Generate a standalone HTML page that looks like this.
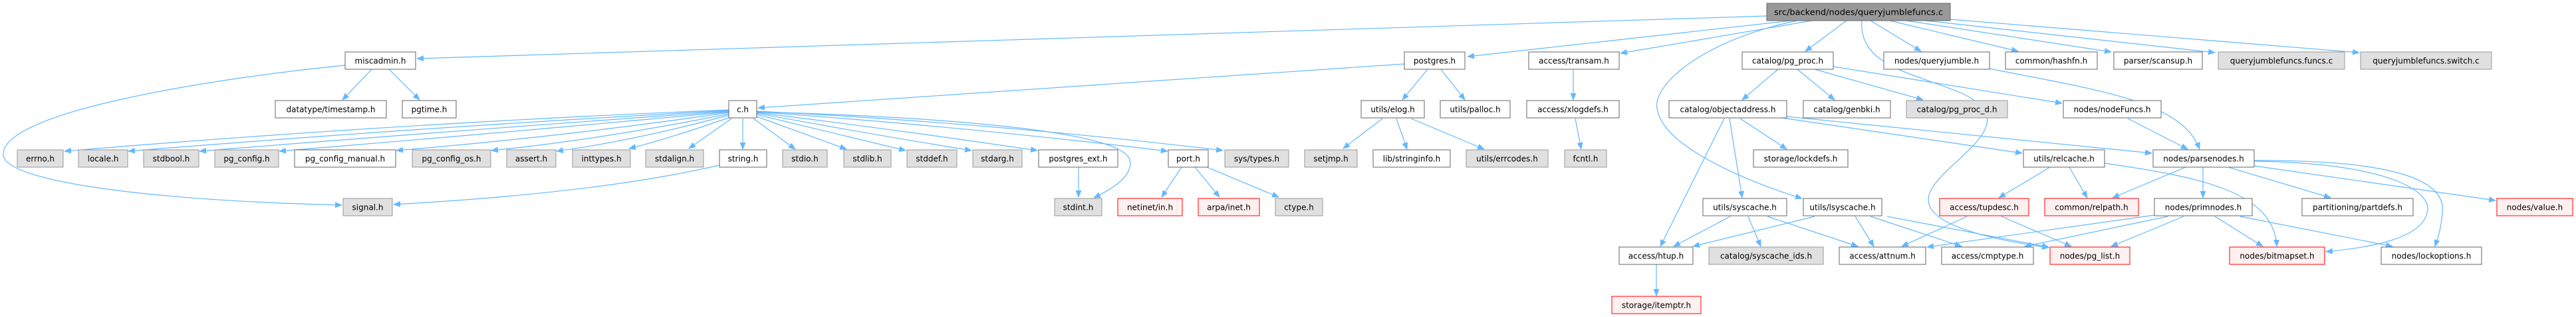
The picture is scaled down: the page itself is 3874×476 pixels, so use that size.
<!DOCTYPE html>
<html><head><meta charset="utf-8"><style>
html,body{margin:0;padding:0;background:#fff}
svg{display:block}
.w{fill:#fff;stroke:#666}
.g{fill:#e0e0e0;stroke:#999}
.r{fill:#fff0f0;stroke:#f00}
.s{fill:#999;stroke:#666}
text{font-family:"DejaVu Sans","Liberation Sans",sans-serif;font-size:12px;fill:#000;text-anchor:middle}
.e{fill:none;stroke:#63b8ff;stroke-width:1.2}
</style></head><body>
<svg width="3874" height="476" viewBox="0 0 3874 476" xmlns="http://www.w3.org/2000/svg">
<defs><marker id="a" markerUnits="userSpaceOnUse" markerWidth="11" markerHeight="9" refX="10" refY="4.5" orient="auto"><path d="M0,0 L11,4.5 L0,9 z" fill="#63b8ff"/></marker></defs>
<g class="e" marker-end="url(#a)">
<!-- src edges -->
<path d="M2657,24 L627,88"/>
<path d="M2694,31 L2207,85"/>
<path d="M2725,31 L2437,80"/>
<path d="M2777,31 L2715,77"/>
<path d="M2703,31 C2560,60 2480,130 2493,167 C2505,220 2620,270 2710,298"/>
<path d="M2813,31 L2889,77"/>
<path d="M2842,31 L3035,77"/>
<path d="M2867,31 L3175,78"/>
<path d="M2896,31 L3331,79"/>
<path d="M2933,29 L3548,79"/>
<path d="M2800,31 C2795,100 2880,110 2950,140 C3060,190 2900,250 2900,300 C2900,340 3000,360 3081,372"/>
<!-- miscadmin -->
<path d="M559,104 L515,150"/>
<path d="M585,104 L631,150"/>
<path d="M519,98 C300,120 0,170 5,233 C8,270 200,300 514,308"/>
<!-- postgres -->
<path d="M2112,96 L1140,162"/>
<path d="M2147,104 L2109,150"/>
<path d="M2167,104 L2203,150"/>
<path d="M2079,178 L2020,223"/>
<path d="M2100,178 L2116,224"/>
<path d="M2122,178 L2232,224"/>
<path d="M2366,104 L2366,150"/>
<path d="M2369,178 L2378,224"/>
<!-- pg_proc -->
<path d="M2674,104 L2620,150"/>
<path d="M2703,104 L2759,150"/>
<path d="M2729,104 L2892,150"/>
<path d="M2757,100 L3101,155"/>
<!-- objectaddress -->
<path d="M2593,178 L2497,370"/>
<path d="M2601,178 L2620,297"/>
<path d="M2617,178 L2687,224"/>
<path d="M2680,177 L3041,230"/>
<path d="M2687,175 L3236,230"/>
<!-- syscache / lsyscache -->
<path d="M2602,325 L2517,370"/>
<path d="M2629,325 L2648,370"/>
<path d="M2658,325 L2794,370"/>
<path d="M2729,325 L2546,370"/>
<path d="M2790,325 L2818,370"/>
<path d="M2813,325 L2950,370"/>
<path d="M2838,325 L3081,371"/>
<path d="M2491,397 L2491,444"/>
<!-- queryjumble / nodeFuncs -->
<path d="M2992,103 C3150,135 3280,150 3308,224"/>
<path d="M3200,178 L3290,224"/>
<!-- relcache -->
<path d="M3083,251 L3006,297"/>
<path d="M3112,251 L3139,297"/>
<path d="M3165,245 C3300,265 3420,285 3424,370"/>
<!-- tupdesc -->
<path d="M2958,325 L2860,370"/>
<path d="M3010,325 L3115,370"/>
<!-- parsenodes -->
<path d="M3287,251 L3177,297"/>
<path d="M3313,251 L3313,297"/>
<path d="M3351,251 L3505,297"/>
<path d="M3390,249 C3500,265 3620,282 3753,301"/>
<path d="M3390,242 C3600,245 3660,290 3650,320 C3640,360 3560,372 3498,378"/>
<path d="M3390,241 C3600,240 3680,270 3673,320 C3670,350 3665,360 3662,370"/>
<!-- primnodes -->
<path d="M3240,323 L2898,371"/>
<path d="M3260,325 L3045,370"/>
<path d="M3284,325 L3175,370"/>
<path d="M3331,325 L3403,370"/>
<path d="M3369,325 L3598,370"/>
<!-- c.h -->
<path d="M1096,165 Q600,185 97,227"/>
<path d="M1096,166 Q650,190 193,227"/>
<path d="M1096,167 Q700,195 300,227"/>
<path d="M1096,168 Q750,200 420,227"/>
<path d="M1096,169 Q850,205 596,226"/>
<path d="M1096,171 Q900,210 739,226"/>
<path d="M1096,173 Q950,212 837,227"/>
<path d="M1098,176 Q1000,210 946,223"/>
<path d="M1100,178 L1036,223"/>
<path d="M1117,178 L1117,224"/>
<path d="M1133,178 L1196,224"/>
<path d="M1138,175 L1273,224"/>
<path d="M1138,172 L1362,226"/>
<path d="M1138,170 Q1300,200 1461,226"/>
<path d="M1138,169 Q1350,195 1560,226"/>
<path d="M1138,168 Q1450,190 1756,227"/>
<path d="M1138,167 Q1500,185 1839,226"/>
<path d="M1138,168 C1400,175 1686,195 1699,240 C1705,265 1670,285 1645,297"/>
<path d="M1622,251 L1622,296"/>
<path d="M1777,251 L1747,296"/>
<path d="M1797,251 L1834,296"/>
<path d="M1815,251 L1923,296"/>
<path d="M1082,248 Q900,290 592,307"/>
</g>
<!-- nodes -->
<g>
<rect class="s" x="2657" y="5" width="276" height="26"/><text x="2795" y="22.5" textLength="254" lengthAdjust="spacingAndGlyphs">src/backend/nodes/queryjumblefuncs.c</text>
<rect class="w" x="519" y="78" width="106" height="26"/><text x="572" y="95.5">miscadmin.h</text>
<rect class="w" x="2112" y="78" width="91" height="26"/><text x="2157.5" y="95.5">postgres.h</text>
<rect class="w" x="2299" y="78" width="136" height="26"/><text x="2367" y="95.5">access/transam.h</text>
<rect class="w" x="2620" y="78" width="137" height="26"/><text x="2688.5" y="95.5">catalog/pg_proc.h</text>
<rect class="w" x="2833" y="78" width="159" height="26"/><text x="2912.5" y="95.5">nodes/queryjumble.h</text>
<rect class="w" x="3016" y="78" width="138" height="26"/><text x="3085" y="95.5">common/hashfn.h</text>
<rect class="w" x="3179" y="78" width="133" height="26"/><text x="3245.5" y="95.5">parser/scansup.h</text>
<rect class="g" x="3336" y="78" width="190" height="26"/><text x="3431" y="95.5">queryjumblefuncs.funcs.c</text>
<rect class="g" x="3550" y="78" width="197" height="26"/><text x="3648.5" y="95.5">queryjumblefuncs.switch.c</text>

<rect class="w" x="414" y="151" width="167" height="26"/><text x="497.5" y="168.5">datatype/timestamp.h</text>
<rect class="w" x="605" y="151" width="81" height="26"/><text x="645.5" y="168.5">pgtime.h</text>
<rect class="w" x="1096" y="151" width="42" height="26"/><text x="1117" y="168.5">c.h</text>
<rect class="w" x="2047" y="151" width="95" height="26"/><text x="2094.5" y="168.5">utils/elog.h</text>
<rect class="w" x="2166" y="151" width="105" height="26"/><text x="2218.5" y="168.5">utils/palloc.h</text>
<rect class="w" x="2296" y="151" width="139" height="26"/><text x="2365.5" y="168.5">access/xlogdefs.h</text>
<rect class="w" x="2510" y="151" width="177" height="26"/><text x="2598.5" y="168.5">catalog/objectaddress.h</text>
<rect class="w" x="2712" y="151" width="131" height="26"/><text x="2777.5" y="168.5">catalog/genbki.h</text>
<rect class="g" x="2867" y="151" width="152" height="26"/><text x="2943" y="168.5">catalog/pg_proc_d.h</text>
<rect class="w" x="3103" y="151" width="147" height="26"/><text x="3176.5" y="168.5">nodes/nodeFuncs.h</text>

<rect class="g" x="26" y="225" width="69" height="26"/><text x="60.5" y="242.5">errno.h</text>
<rect class="g" x="118" y="225" width="74" height="26"/><text x="155" y="242.5">locale.h</text>
<rect class="g" x="216" y="225" width="83" height="26"/><text x="257.5" y="242.5">stdbool.h</text>
<rect class="g" x="323" y="225" width="96" height="26"/><text x="371" y="242.5">pg_config.h</text>
<rect class="w" x="443" y="225" width="152" height="26"/><text x="519" y="242.5">pg_config_manual.h</text>
<rect class="g" x="620" y="225" width="118" height="26"/><text x="679" y="242.5">pg_config_os.h</text>
<rect class="g" x="762" y="225" width="74" height="26"/><text x="799" y="242.5">assert.h</text>
<rect class="g" x="861" y="225" width="87" height="26"/><text x="904.5" y="242.5">inttypes.h</text>
<rect class="g" x="971" y="225" width="87" height="26"/><text x="1014.5" y="242.5">stdalign.h</text>
<rect class="w" x="1082" y="225" width="71" height="26"/><text x="1117.5" y="242.5">string.h</text>
<rect class="g" x="1177" y="225" width="67" height="26"/><text x="1210.5" y="242.5">stdio.h</text>
<rect class="g" x="1269" y="225" width="71" height="26"/><text x="1304.5" y="242.5">stdlib.h</text>
<rect class="g" x="1364" y="225" width="75" height="26"/><text x="1401.5" y="242.5">stddef.h</text>
<rect class="g" x="1463" y="225" width="74" height="26"/><text x="1500" y="242.5">stdarg.h</text>
<rect class="w" x="1562" y="225" width="119" height="26"/><text x="1621.5" y="242.5">postgres_ext.h</text>
<rect class="w" x="1757" y="225" width="60" height="26"/><text x="1787" y="242.5">port.h</text>
<rect class="g" x="1842" y="225" width="96" height="26"/><text x="1890" y="242.5">sys/types.h</text>
<rect class="g" x="1962" y="225" width="79" height="26"/><text x="2001.5" y="242.5">setjmp.h</text>
<rect class="w" x="2065" y="225" width="116" height="26"/><text x="2123" y="242.5">lib/stringinfo.h</text>
<rect class="g" x="2205" y="225" width="123" height="26"/><text x="2266.5" y="242.5">utils/errcodes.h</text>
<rect class="g" x="2353" y="225" width="63" height="26"/><text x="2384.5" y="242.5">fcntl.h</text>
<rect class="w" x="2637" y="225" width="142" height="26"/><text x="2708" y="242.5">storage/lockdefs.h</text>
<rect class="w" x="3043" y="225" width="122" height="26"/><text x="3104" y="242.5">utils/relcache.h</text>
<rect class="w" x="3238" y="225" width="152" height="26"/><text x="3314" y="242.5">nodes/parsenodes.h</text>

<rect class="g" x="516" y="298" width="74" height="26"/><text x="553" y="315.5">signal.h</text>
<rect class="g" x="1586" y="298" width="71" height="26"/><text x="1621.5" y="315.5">stdint.h</text>
<rect class="r" x="1681" y="298" width="97" height="26"/><text x="1729.5" y="315.5">netinet/in.h</text>
<rect class="r" x="1802" y="298" width="92" height="26"/><text x="1848" y="315.5">arpa/inet.h</text>
<rect class="g" x="1918" y="298" width="71" height="26"/><text x="1953.5" y="315.5">ctype.h</text>
<rect class="w" x="2561" y="298" width="126" height="26"/><text x="2624" y="315.5">utils/syscache.h</text>
<rect class="w" x="2712" y="298" width="118" height="26"/><text x="2771" y="315.5">utils/lsyscache.h</text>
<rect class="r" x="2917" y="298" width="134" height="26"/><text x="2984" y="315.5">access/tupdesc.h</text>
<rect class="r" x="3075" y="298" width="141" height="26"/><text x="3145.5" y="315.5">common/relpath.h</text>
<rect class="w" x="3240" y="298" width="147" height="26"/><text x="3313.5" y="315.5">nodes/primnodes.h</text>
<rect class="w" x="3462" y="298" width="167" height="26"/><text x="3545.5" y="315.5">partitioning/partdefs.h</text>
<rect class="r" x="3755" y="298" width="114" height="26"/><text x="3812" y="315.5">nodes/value.h</text>

<rect class="w" x="2435" y="371" width="111" height="26"/><text x="2490.5" y="388.5">access/htup.h</text>
<rect class="g" x="2570" y="371" width="172" height="26"/><text x="2656" y="388.5">catalog/syscache_ids.h</text>
<rect class="w" x="2766" y="371" width="130" height="26"/><text x="2831" y="388.5">access/attnum.h</text>
<rect class="w" x="2920" y="371" width="138" height="26"/><text x="2989" y="388.5">access/cmptype.h</text>
<rect class="r" x="3083" y="371" width="120" height="26"/><text x="3143" y="388.5">nodes/pg_list.h</text>
<rect class="r" x="3353" y="371" width="143" height="26"/><text x="3424.5" y="388.5">nodes/bitmapset.h</text>
<rect class="w" x="3581" y="371" width="151" height="26"/><text x="3656.5" y="388.5">nodes/lockoptions.h</text>

<rect class="r" x="2424" y="445" width="134" height="26"/><text x="2491" y="462.5">storage/itemptr.h</text>
</g>
</svg>
</body></html>
